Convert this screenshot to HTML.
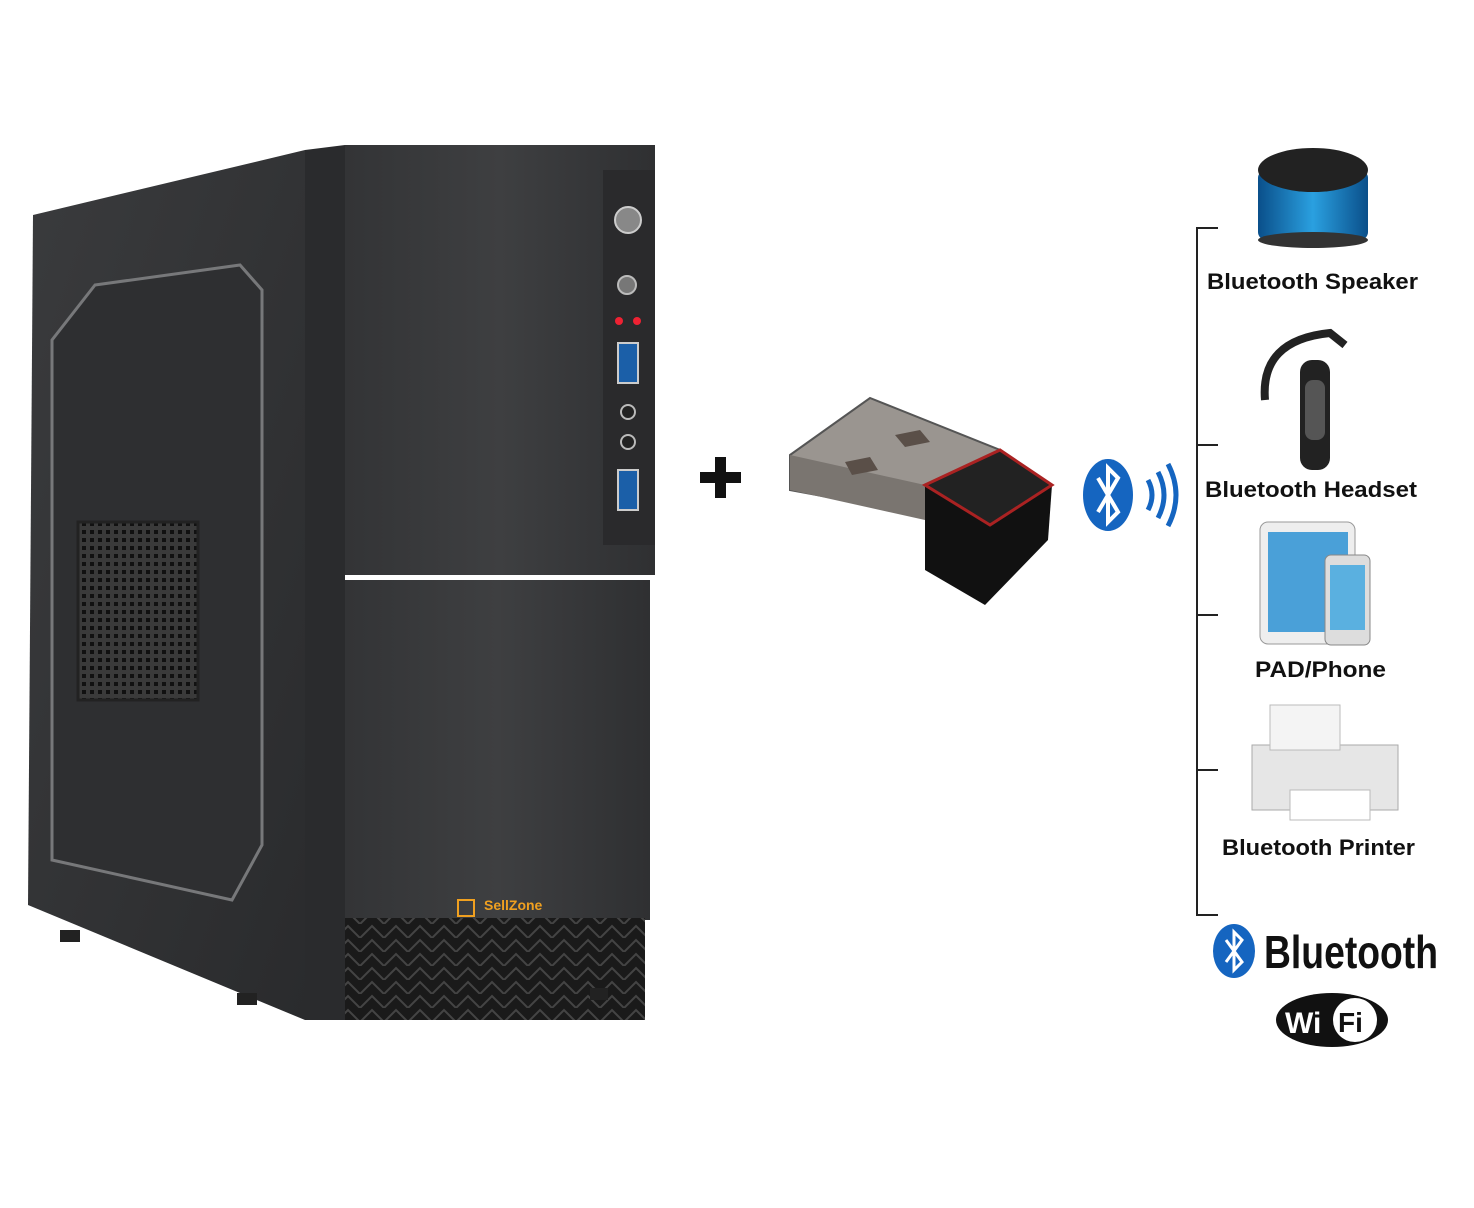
<!DOCTYPE html>
<html><head><meta charset="utf-8"><style>
html,body{margin:0;padding:0;background:#fff;}
svg{display:block;}
text{font-family:"Liberation Sans",sans-serif;}
</style></head><body>
<svg width="1474" height="1208" viewBox="0 0 1474 1208" xmlns="http://www.w3.org/2000/svg">
<defs>
<linearGradient id="side" x1="0" y1="0" x2="1" y2="1">
<stop offset="0" stop-color="#3a3b3d"/><stop offset="1" stop-color="#2a2b2d"/></linearGradient>
<linearGradient id="front" x1="0" y1="0" x2="1" y2="0">
<stop offset="0" stop-color="#333436"/><stop offset="0.5" stop-color="#3e3f41"/><stop offset="1" stop-color="#2f3032"/></linearGradient>
<linearGradient id="spk" x1="0" y1="0" x2="1" y2="0">
<stop offset="0" stop-color="#0a4f8a"/><stop offset="0.5" stop-color="#2aa0e0"/><stop offset="1" stop-color="#0a4f8a"/></linearGradient>
<pattern id="holes" width="8" height="8" patternUnits="userSpaceOnUse">
<rect width="8" height="8" fill="#3a3a3a"/><rect x="2" y="2" width="4" height="4" fill="#111"/></pattern>
<pattern id="grill" width="24" height="14" patternUnits="userSpaceOnUse">
<rect width="24" height="14" fill="#1a1a1a"/><path d="M0 14 L12 2 L24 14" stroke="#444" stroke-width="2" fill="none"/></pattern>
</defs>
<polygon points="33,215 305,150 305,1020 28,905" fill="url(#side)"/>
<polygon points="95,285 240,265 262,290 262,845 232,900 52,860 52,340" fill="#2e2f31" stroke="#77787a" stroke-width="3"/>
<rect x="78" y="522" width="120" height="178" fill="url(#holes)" stroke="#222" stroke-width="3"/>
<polygon points="305,150 345,145 345,1020 305,1020" fill="#2a2b2d"/>
<rect x="345" y="145" width="310" height="430" fill="url(#front)"/>
<rect x="345" y="580" width="305" height="340" fill="url(#front)"/>
<rect x="345" y="918" width="300" height="102" fill="url(#grill)"/>
<rect x="603" y="170" width="52" height="375" fill="#2a2a2c"/>
<circle cx="628" cy="220" r="13" fill="#888" stroke="#ccc" stroke-width="2"/>
<circle cx="627" cy="285" r="9" fill="#777" stroke="#bbb" stroke-width="2"/>
<circle cx="619" cy="321" r="4" fill="#e23"/><circle cx="637" cy="321" r="4" fill="#e23"/>
<rect x="618" y="343" width="20" height="40" fill="#1b5fa8" stroke="#ccc" stroke-width="2"/>
<circle cx="628" cy="412" r="7" fill="#222" stroke="#bbb" stroke-width="2"/>
<circle cx="628" cy="442" r="7" fill="#222" stroke="#bbb" stroke-width="2"/>
<rect x="618" y="470" width="20" height="40" fill="#1b5fa8" stroke="#ccc" stroke-width="2"/>
<text x="484" y="910" font-size="14" font-weight="bold" fill="#f0a020">SellZone</text>
<rect x="458" y="900" width="16" height="16" fill="none" stroke="#f0a020" stroke-width="2"/>
<rect x="60" y="930" width="20" height="12" fill="#222"/>
<rect x="237" y="993" width="20" height="12" fill="#222"/>
<rect x="590" y="988" width="18" height="12" fill="#222"/>
<rect x="700" y="472" width="41" height="11" fill="#111"/>
<rect x="715" y="457" width="11" height="41" fill="#111"/>
<polygon points="790,455 870,398 1000,450 925,515 790,490" fill="#9a9590" stroke="#555" stroke-width="2"/>
<polygon points="790,455 790,490 925,520 925,485" fill="#7a7570"/>
<polygon points="895,435 920,430 930,442 905,447" fill="#5a4f48"/>
<polygon points="845,462 870,457 878,470 852,475" fill="#5a4f48"/>
<polygon points="925,485 1000,450 1052,485 1048,540 985,605 925,570" fill="#111"/>
<polygon points="925,485 1000,450 1052,485 990,525" fill="#222" stroke="#a22" stroke-width="3"/>
<ellipse cx="1108" cy="495" rx="25" ry="36" fill="#1565c0"/>
<path d="M1098 478 L1118 512 L1108 522 L1108 468 L1118 478 L1098 512" stroke="#fff" stroke-width="4" fill="none"/>
<path d="M1148 480 Q1156 495 1148 510" stroke="#1565c0" stroke-width="5" fill="none"/>
<path d="M1158 472 Q1170 495 1158 518" stroke="#1565c0" stroke-width="5" fill="none"/>
<path d="M1168 464 Q1184 495 1168 526" stroke="#1565c0" stroke-width="5" fill="none"/>
<path d="M1218 228 H1197 V915 H1218 M1197 445 H1218 M1197 615 H1218 M1197 770 H1218" stroke="#222" stroke-width="2" fill="none"/>
<rect x="1258" y="170" width="110" height="70" rx="8" fill="url(#spk)"/>
<ellipse cx="1313" cy="170" rx="55" ry="22" fill="#222"/>
<ellipse cx="1313" cy="240" rx="55" ry="8" fill="#333"/>
<path d="M1265 400 Q1260 340 1330 333 L1345 345" stroke="#222" stroke-width="8" fill="none"/>
<rect x="1300" y="360" width="30" height="110" rx="12" fill="#222"/>
<rect x="1305" y="380" width="20" height="60" rx="8" fill="#555"/>
<rect x="1260" y="522" width="95" height="122" rx="8" fill="#eee" stroke="#999"/>
<rect x="1268" y="532" width="80" height="100" fill="#4aa0d8"/>
<rect x="1325" y="555" width="45" height="90" rx="6" fill="#ddd" stroke="#888"/>
<rect x="1330" y="565" width="35" height="65" fill="#5ab0e0"/>
<polygon points="1252,745 1398,745 1398,810 1252,810" fill="#e6e6e6" stroke="#aaa"/>
<rect x="1270" y="705" width="70" height="45" fill="#f4f4f4" stroke="#bbb"/>
<rect x="1290" y="790" width="80" height="30" fill="#fff" stroke="#bbb"/>
<g font-size="22" fill="#111" font-weight="bold" lengthAdjust="spacingAndGlyphs">
<text x="1207" y="289" textLength="211" lengthAdjust="spacingAndGlyphs">Bluetooth Speaker</text>
<text x="1205" y="497" textLength="212" lengthAdjust="spacingAndGlyphs">Bluetooth Headset</text>
<text x="1255" y="677" textLength="131" lengthAdjust="spacingAndGlyphs">PAD/Phone</text>
<text x="1222" y="855" textLength="193" lengthAdjust="spacingAndGlyphs">Bluetooth Printer</text>
</g>
<ellipse cx="1234" cy="951" rx="21" ry="27" fill="#1565c0"/>
<path d="M1226 940 L1242 962 L1234 970 L1234 932 L1242 940 L1226 962" stroke="#fff" stroke-width="3" fill="none"/>
<text x="1264" y="968" font-size="46" font-weight="bold" fill="#111" textLength="174" lengthAdjust="spacingAndGlyphs">Bluetooth</text>
<ellipse cx="1332" cy="1020" rx="56" ry="27" fill="#111"/>
<text x="1285" y="1033" font-size="30" font-weight="bold" fill="#fff">Wi</text>
<circle cx="1355" cy="1020" r="22" fill="#fff"/>
<text x="1338" y="1032" font-size="28" font-weight="bold" fill="#111">Fi</text>
</svg>
</body></html>
